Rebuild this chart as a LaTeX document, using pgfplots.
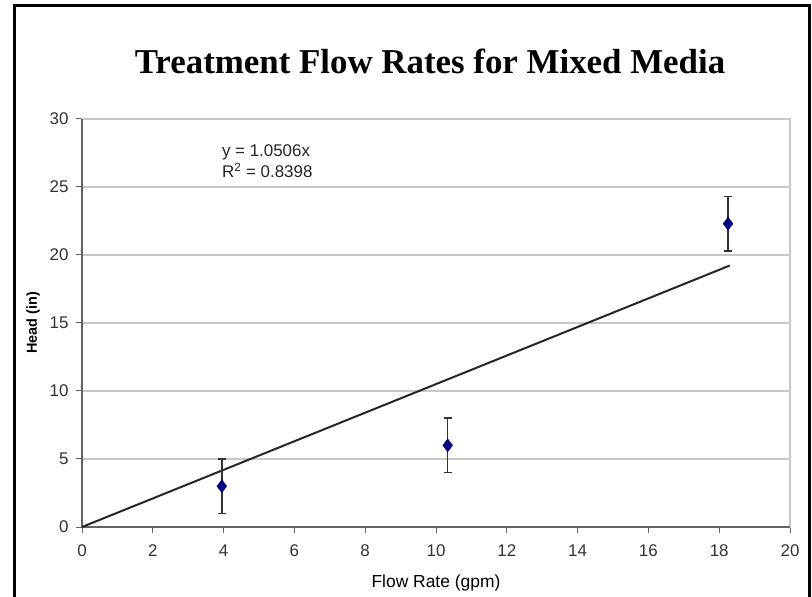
\documentclass[border=0pt]{standalone}
\usepackage{fontspec}
\setmainfont{Liberation Sans}
\newfontfamily\titlefont{Liberation Serif}
\usepackage{pgfplots}
\pgfplotsset{compat=1.18}
\definecolor{navypt}{RGB}{0,0,128}
\definecolor{gridgray}{RGB}{200,200,200}
\definecolor{axgray}{RGB}{100,100,100}

\begin{document}
\begin{tikzpicture}
\useasboundingbox (0,0) rectangle (812bp,597bp);
% outer frame (bottom edge is cut off in the reference)
\draw[line width=3bp] (14bp,-10bp) -- (14bp,591bp) -- (809bp,591bp) -- (809bp,-10bp);
\node[anchor=base, font=\titlefont\bfseries\fontsize{35}{40}\selectfont]
  at (430bp,523bp) {Treatment Flow Rates for Mixed Media};

\begin{axis}[
  at={(82bp,70bp)}, anchor=south west,
  scale only axis, width=708bp, height=408bp,
  xmin=0, xmax=20, ymin=0, ymax=30,
  xtick={0,2,...,20}, ytick={0,5,...,30},
  xtick pos=bottom, ytick pos=left,
  tick align=outside, major tick length=6bp,
  tick style={axgray, line width=1bp},
  axis line style={gridgray, line width=1.2bp},
  ymajorgrids, grid style={gridgray, line width=1.2bp},
  /pgf/number format/assume math mode=true,
  tick label style={font=\fontsize{17}{20}\selectfont, text=black!80},
  xticklabel style={yshift=-8bp},
  yticklabel style={xshift=-4bp},
  xlabel={Flow Rate (gpm)},
  ylabel={\textbf{Head (in)}},
  xlabel style={font=\fontsize{17.5}{20}\selectfont, yshift=-12bp},
  ylabel style={font=\fontsize{14.5}{17}\selectfont, yshift=3bp},
  clip=false,
]
% left and bottom axis lines (darker)
\draw[axgray, line width=1.3bp] (rel axis cs:0,1) -- (rel axis cs:0,0) -- (rel axis cs:1,0);

% linear trendline y = 1.0506x
\addplot[black!85, line width=2bp, no marks] coordinates {(0,0) (18.3,19.226)};

% measured points with error bars
\addplot[
  only marks, mark=diamond*, mark size=6.5bp,
  mark options={fill=navypt, draw=navypt},
  error bars/.cd, y dir=both, y explicit,
  error bar style={black!80, line width=1.5bp},
  error mark options={rotate=90, mark size=4bp, line width=1.5bp, black!80},
] coordinates {
  (3.95,3.0) +- (0,2)
  (10.33,6.0) +- (0,2)
  (18.25,22.3) +- (0,2)
};

\node[anchor=north west, align=left, inner sep=0pt,
  font=\fontsize{17}{21}\selectfont, text=black!85]
  at (axis cs:3.95,28.1) {y = 1.0506x\\R\textsuperscript{2} = 0.8398};
\end{axis}
\end{tikzpicture}
\end{document}
